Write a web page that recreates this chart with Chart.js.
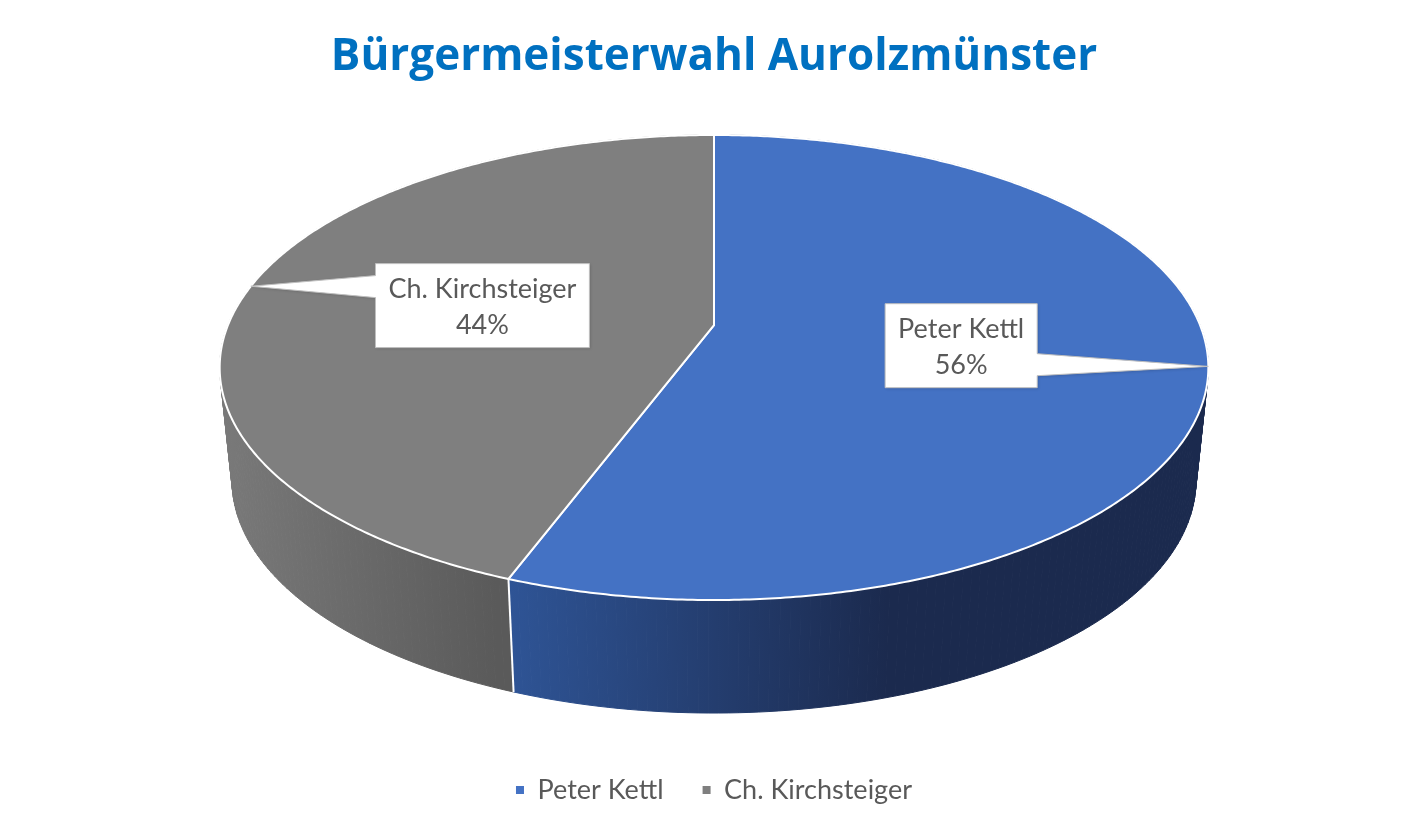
<!DOCTYPE html>
<html>
<head>
<meta charset="utf-8">
<script src="https://cdn.jsdelivr.net/npm/chart.js@4.4.1/dist/chart.umd.min.js"></script>
<style>
  html, body { margin: 0; background: #fff; }
  #rahmen { width: 1422px; height: 827px; }
</style>
</head>
<body>
<div id="rahmen"><canvas id="wahlChart"></canvas></div>
<script>
// Daten
const kandidaten = ['Peter Kettl', 'Ch. Kirchsteiger'];
const anteile = [55.7, 44.3];

const farbeOben = ['#4472C4', '#7F7F7F'];
const farbeSeite = [['#2F5597', '#1B2A4E'], ['#7A7A7A', '#5A5A5A']];
const schrift = 'Lato, "Open Sans", sans-serif';

// Perspektive (relativ zum Radius von Chart.js)
const G = 0.1828;
function punkt(geo, theta, unten) {
    const u = Math.sin(theta), v = Math.cos(theta);
    const w = 1 + G * v;
    let x = geo.cx + 1.6106 * geo.r * u / w;
    let y = geo.cy + geo.r * (-0.367 - 0.8119 * v) / w;
    if (unten) {
        x = geo.cx + (x - geo.cx) * 0.975;
        y += 0.3745 * geo.r;
    }
    return { x, y };
}
function mitte(geo) {
    return { x: geo.cx, y: geo.cy - 0.367 * geo.r };
}

const torte3d = {
    id: 'torte3d',
    beforeDatasetsDraw(chart) {
        const ctx = chart.ctx;
        const bogen = chart.getDatasetMeta(0).data;
        const geo = { cx: bogen[0].x, cy: bogen[0].y, r: bogen[0].outerRadius };
        const winkel = bogen.map(b => [b.startAngle + Math.PI / 2, b.endAngle + Math.PI / 2]);

        // Seitenwand in kleinen Stuecken, hinten zuerst
        const verlauf = farbeSeite.map((f, i) => {
            const von = i === 0 ? geo.cx - 0.706 * geo.r : geo.cx - 1.65 * geo.r;
            const bis = i === 0 ? geo.cx + 0.574 * geo.r : geo.cx - 0.72 * geo.r;
            const g = ctx.createLinearGradient(von, 0, bis, 0);
            g.addColorStop(0, f[0]);
            g.addColorStop(1, f[1]);
            return g;
        });
        const stuecke = [];
        winkel.forEach(([t0, t1], i) => {
            const n = Math.max(1, Math.ceil((t1 - t0) / (Math.PI / 180)));
            for (let k = 0; k < n; k++) {
                const a = t0 + (t1 - t0) * k / n;
                const c = t0 + (t1 - t0) * (k + 1) / n;
                stuecke.push({ i, a, c, v: Math.cos((a + c) / 2) });
            }
        });
        stuecke.sort((p, q) => q.v - p.v);
        ctx.save();
        ctx.lineWidth = 1;
        stuecke.forEach(s => {
            const p1 = punkt(geo, s.a, false), p2 = punkt(geo, s.c, false);
            const q2 = punkt(geo, s.c, true), q1 = punkt(geo, s.a, true);
            ctx.beginPath();
            ctx.moveTo(p1.x, p1.y);
            ctx.lineTo(p2.x, p2.y);
            ctx.lineTo(q2.x, q2.y);
            ctx.lineTo(q1.x, q1.y);
            ctx.closePath();
            ctx.fillStyle = verlauf[s.i];
            ctx.strokeStyle = verlauf[s.i];
            ctx.fill();
            ctx.stroke();
        });

        // weisse Kanten an sichtbaren Grenzen vorne
        ctx.strokeStyle = '#ffffff';
        ctx.lineWidth = 2;
        winkel.forEach(([t0]) => {
            if (Math.cos(t0) < -0.2) {
                const o = punkt(geo, t0, false), un = punkt(geo, t0, true);
                ctx.beginPath();
                ctx.moveTo(o.x, o.y);
                ctx.lineTo(un.x, un.y);
                ctx.stroke();
            }
        });

        // Deckflaeche
        const m = mitte(geo);
        winkel.forEach(([t0, t1], i) => {
            const n = Math.max(2, Math.ceil((t1 - t0) / (Math.PI / 360)));
            ctx.beginPath();
            ctx.moveTo(m.x, m.y);
            for (let k = 0; k <= n; k++) {
                const p = punkt(geo, t0 + (t1 - t0) * k / n, false);
                ctx.lineTo(p.x, p.y);
            }
            ctx.closePath();
            ctx.fillStyle = farbeOben[i];
            ctx.fill();
            ctx.lineJoin = 'round';
            ctx.stroke();
        });
        ctx.restore();
        return false;
    },
    afterDraw(chart) {
        const ctx = chart.ctx;
        const bogen = chart.getDatasetMeta(0).data;
        const geo = { cx: bogen[0].x, cy: bogen[0].y, r: bogen[0].outerRadius };
        const m = mitte(geo);
        const summe = anteile.reduce((a, b) => a + b, 0);
        ctx.save();
        ctx.font = '27px ' + schrift;
        bogen.forEach((b, i) => {
            const t = (b.startAngle + b.endAngle) / 2 + Math.PI / 2;
            const anker = punkt(geo, t, false);
            const zeile1 = kandidaten[i];
            const zeile2 = Math.round(anteile[i] / summe * 100) + '%';
            const breite = Math.max(ctx.measureText(zeile1).width, ctx.measureText(zeile2).width) + 26;
            const hoehe = 84;
            const bx = (anker.x + m.x) / 2, by = (anker.y + m.y) / 2;
            const l = bx - breite / 2, r = bx + breite / 2, o = by - hoehe / 2, u = by + hoehe / 2;
            const basis = Math.min(Math.max(anker.y, o + 23), u - 23);
            ctx.beginPath();
            ctx.moveTo(l, o);
            ctx.lineTo(r, o);
            if (anker.x > r) {
                ctx.lineTo(r, basis - 11);
                ctx.lineTo(anker.x, anker.y);
                ctx.lineTo(r, basis + 11);
            }
            ctx.lineTo(r, u);
            ctx.lineTo(l, u);
            if (anker.x < l) {
                ctx.lineTo(l, basis + 11);
                ctx.lineTo(anker.x, anker.y);
                ctx.lineTo(l, basis - 11);
            }
            ctx.closePath();
            ctx.shadowColor = 'rgba(0,0,0,0.18)';
            ctx.shadowBlur = 3;
            ctx.shadowOffsetX = 1;
            ctx.shadowOffsetY = 1;
            ctx.fillStyle = '#ffffff';
            ctx.fill();
            ctx.shadowColor = 'transparent';
            ctx.strokeStyle = '#BFBFBF';
            ctx.lineWidth = 1;
            ctx.stroke();
            ctx.fillStyle = '#595959';
            ctx.textAlign = 'center';
            ctx.textBaseline = 'middle';
            ctx.fillText(zeile1, bx, by - 16);
            ctx.fillText(zeile2, bx, by + 20);
        });
        ctx.restore();
    }
};

document.addEventListener('DOMContentLoaded', function () {
    const leinwand = document.getElementById('wahlChart');
    new Chart(leinwand, {
        type: 'pie',
        data: {
            labels: kandidaten,
            datasets: [{
                label: 'Stimmen',
                data: anteile,
                backgroundColor: farbeOben,
                borderWidth: 0,
                hoverOffset: 0
            }]
        },
        options: {
            responsive: true,
            maintainAspectRatio: false,
            animation: false,
            events: [],
            layout: { padding: { left: 6, bottom: 13.5 } },
            plugins: {
                title: {
                    display: true,
                    text: 'Bürgermeisterwahl Aurolzmünster',
                    color: '#0070C0',
                    font: { family: '"Open Sans", Lato, sans-serif', size: 44, weight: 'bold' },
                    padding: { top: 30.6, bottom: 50.6 }
                },
                legend: {
                    position: 'bottom',
                    labels: {
                        usePointStyle: true,
                        pointStyle: 'rect',
                        boxWidth: 8,
                        boxHeight: 8,
                        padding: 39,
                        color: '#595959',
                        font: { family: schrift, size: 27 }
                    }
                },
                tooltip: { enabled: false }
            }
        },
        plugins: [torte3d]
    });
});
</script>
</body>
</html>
